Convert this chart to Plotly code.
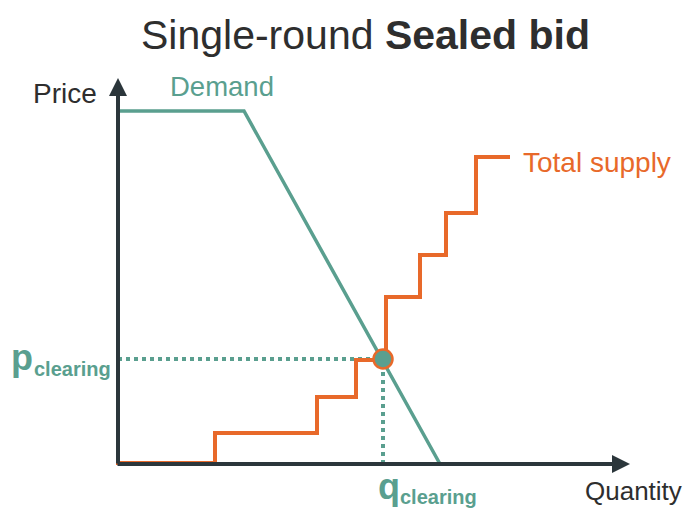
import plotly.graph_objects as go

# Conceptual units: origin at the axes corner
demand_q = [4, 128, 324]
demand_p = [353, 353, 0]

supply_q = [0, 99, 99, 201, 201, 240, 240, 270, 270, 304, 304, 330, 330, 360, 360, 394]
supply_p = [1, 1, 31, 31, 67, 67, 104, 104, 167, 167, 209, 209, 251, 251, 307, 307]

clearing_q = 267
clearing_p = 105

TEAL = "#5a9f8f"
ORANGE = "#e8692a"
AXIS = "#2b363b"
TEXT = "#2e2e2e"
FONT = "Liberation Sans, Arial, sans-serif"

fig = go.Figure()

# dotted guide lines
fig.add_trace(go.Scatter(x=[2, clearing_q], y=[clearing_p, clearing_p], mode="lines",
                         line=dict(color=TEAL, width=4, dash="dot"), hoverinfo="skip"))
fig.add_trace(go.Scatter(x=[clearing_q, clearing_q], y=[0, clearing_p], mode="lines",
                         line=dict(color=TEAL, width=4, dash="dot"), hoverinfo="skip"))

# demand
fig.add_trace(go.Scatter(x=demand_q, y=demand_p, mode="lines",
                         line=dict(color=TEAL, width=3.5), hoverinfo="skip"))
# supply
fig.add_trace(go.Scatter(x=supply_q, y=supply_p, mode="lines",
                         line=dict(color=ORANGE, width=4), hoverinfo="skip"))
# clearing point
fig.add_trace(go.Scatter(x=[clearing_q], y=[clearing_p], mode="markers",
                         marker=dict(color=TEAL, size=19, line=dict(color=ORANGE, width=2.5)),
                         hoverinfo="skip"))

annotations = [
    # axes arrows
    dict(x=514, y=0, ax=0, ay=0, axref="x", ayref="y", xref="x", yref="y", text="",
         showarrow=True, arrowhead=2, arrowsize=0.9, arrowwidth=4, arrowcolor=AXIS),
    dict(x=2, y=386, ax=2, ay=-1, axref="x", ayref="y", xref="x", yref="y", text="",
         showarrow=True, arrowhead=2, arrowsize=0.9, arrowwidth=4, arrowcolor=AXIS),
    # texts
    dict(x=249, y=429, xref="x", yref="y", text="Single-round <b>Sealed bid</b>", showarrow=False,
         font=dict(family=FONT, size=41, color=TEXT), xanchor="center", yanchor="middle"),
    dict(x=-85, y=371, xref="x", yref="y", text="Price", showarrow=False,
         font=dict(family=FONT, size=28, color=TEXT), xanchor="left", yanchor="middle"),
    dict(x=52, y=378, xref="x", yref="y", text="Demand", showarrow=False,
         font=dict(family=FONT, size=27.5, color=TEAL), xanchor="left", yanchor="middle"),
    dict(x=405, y=302, xref="x", yref="y", text="Total supply", showarrow=False,
         font=dict(family=FONT, size=28, color=ORANGE), xanchor="left", yanchor="middle"),
    dict(x=468, y=-27, xref="x", yref="y", text="Quantity", showarrow=False, borderpad=0,
         font=dict(family=FONT, size=26, color=TEXT), xanchor="left", yanchor="middle"),
    dict(x=-107, y=107, xref="x", yref="y", text="<b>p</b>", showarrow=False,
         font=dict(family=FONT, size=36, color=TEAL), xanchor="left", yanchor="middle"),
    dict(x=-84, y=95, xref="x", yref="y", text="<b>clearing</b>", showarrow=False,
         font=dict(family=FONT, size=20, color=TEAL), xanchor="left", yanchor="middle"),
    dict(x=260, y=-22, xref="x", yref="y", text="<b>q</b>", showarrow=False,
         font=dict(family=FONT, size=36, color=TEAL), xanchor="left", yanchor="middle"),
    dict(x=282, y=-33, xref="x", yref="y", text="<b>clearing</b>", showarrow=False,
         font=dict(family=FONT, size=20, color=TEAL), xanchor="left", yanchor="middle"),
]

fig.update_layout(
    width=688, height=508,
    margin=dict(l=0, r=0, t=0, b=0),
    paper_bgcolor="white", plot_bgcolor="white",
    showlegend=False,
    xaxis=dict(range=[-116, 572], visible=False, fixedrange=True),
    yaxis=dict(range=[-44, 464], visible=False, fixedrange=True),
    annotations=annotations,
)

fig.write_html("out.html")
